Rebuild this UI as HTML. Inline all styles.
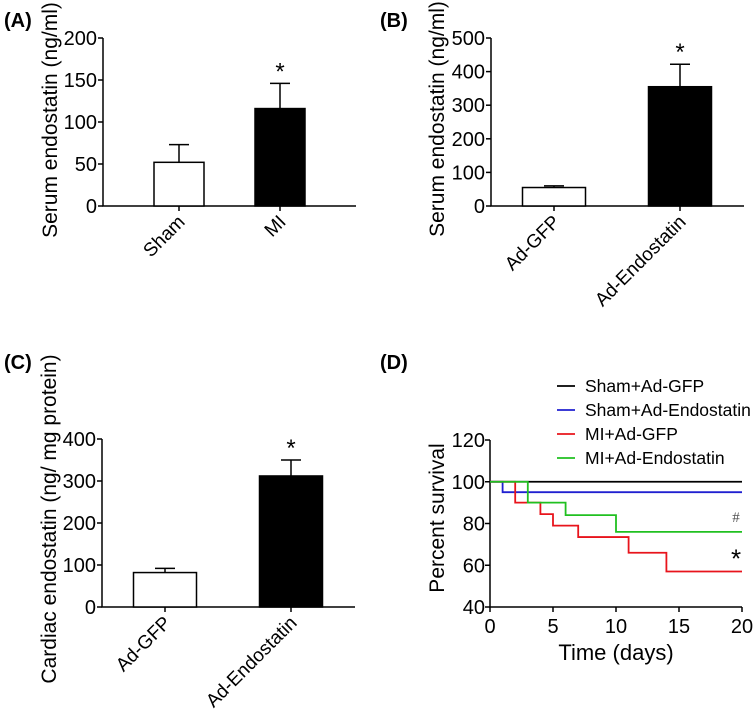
<!DOCTYPE html>
<html><head><meta charset="utf-8"><style>
body{margin:0;background:#fff;}
svg{display:block;font-family:"Liberation Sans",Arial,sans-serif;}
</style></head><body>
<svg id="fig" width="756" height="710" viewBox="0 0 756 710" xmlns="http://www.w3.org/2000/svg">
<text x="4" y="27" font-size="20" font-weight="bold">(A)</text>
<text x="380" y="27" font-size="20" font-weight="bold">(B)</text>
<text x="4" y="369" font-size="20" font-weight="bold">(C)</text>
<text x="380" y="369" font-size="20" font-weight="bold">(D)</text>
</svg>
<script>
const NS="http://www.w3.org/2000/svg";
const svg=document.getElementById('fig');
function mk(tag,attrs,parent,text){const e=document.createElementNS(NS,tag);for(const k in attrs)e.setAttribute(k,attrs[k]);if(text!==undefined)e.textContent=text;(parent||svg).appendChild(e);return e;}

// Panel A data
const aCategories=["Sham","MI"];
const aValues=[52,116];
const aErrors=[73,146];
const aTicks=[0,50,100,150,200];
// Panel B data
const bCategories=["Ad-GFP","Ad-Endostatin"];
const bValues=[55,355];
const bErrors=[60,422];
const bTicks=[0,100,200,300,400,500];
// Panel C data
const cCategories=["Ad-GFP","Ad-Endostatin"];
const cValues=[82,312];
const cErrors=[92,350];
const cTicks=[0,100,200,300,400];
// Panel D data
const dXTicks=[0,5,10,15,20];
const dYTicks=[40,60,80,100,120];
const shamGfpDays=[0,20];
const shamGfpSurv=[100,100];
const shamEndoDays=[0,1,20];
const shamEndoSurv=[100,95,95];
const miGfpDays=[0,2,4,5,7,11,14,20];
const miGfpSurv=[100,90,84.5,79,73.5,66,57,57];
const miEndoDays=[0,3,6,10,20];
const miEndoSurv=[100,90,84,76,76];

function barPanel(cfg){
  const g=mk('g',{});
  
  
  const y=v=>cfg.y0-(v/cfg.max)*(cfg.y0-cfg.yTop);
  const ax=mk('path',{d:`M${cfg.x0},${cfg.yTop}V${cfg.y0}H${cfg.xEnd}`,stroke:'#000','stroke-width':1.5,fill:'none'},g);
  
  cfg.ticks.forEach(t=>{
    mk('line',{x1:cfg.x0-5,x2:cfg.x0,y1:y(t),y2:y(t),stroke:'#000','stroke-width':1.5},g);
    const tl=mk('text',{x:cfg.x0-6,y:y(t)+7,'font-size':20,'text-anchor':'end'},g,t);
    
  });
  const yt=mk('text',{transform:`translate(${cfg.titleX},${cfg.titleY}) rotate(-90)`,'font-size':21,'text-anchor':'middle'},g,cfg.title);
  
  cfg.cats.forEach((c,i)=>{
    const cx=cfg.centers[i];
    const top=y(cfg.vals[i]);
    const b=mk('rect',{x:cx-cfg.bw/2,y:top,width:cfg.bw,height:cfg.y0-top,fill:i?'#000':'#fff',stroke:'#000','stroke-width':1.5},g);
    
    const e=mk('path',{d:`M${cx},${top}V${y(cfg.errs[i])}M${cx-10},${y(cfg.errs[i])}H${cx+10}`,stroke:'#000','stroke-width':1.5,fill:'none'},g);
    
    mk('line',{x1:cx,x2:cx,y1:cfg.y0,y2:cfg.y0+5,stroke:'#000','stroke-width':1.5},g);
    const xl=mk('text',{transform:`translate(${cx+7},${cfg.y0+17}) rotate(-45)`,'font-size':19,'text-anchor':'end'},g,c);
    
  });
  const st=mk('text',{x:cfg.centers[1],y:y(cfg.errs[1])-4,'font-size':24,'text-anchor':'middle'},g,'*');
  
}
barPanel({name:'panel-a-chart',x0:103,xEnd:356,yTop:38,y0:206,max:200,ticks:aTicks,cats:aCategories,vals:aValues,errs:aErrors,centers:[179,280],bw:50,title:'Serum endostatin (ng/ml)',titleX:57,titleY:120});
barPanel({name:'panel-b-chart',x0:491,xEnd:744,yTop:38,y0:206,max:500,ticks:bTicks,cats:bCategories,vals:bValues,errs:bErrors,centers:[554,680],bw:63,title:'Serum endostatin (ng/ml)',titleX:444,titleY:119});
barPanel({name:'panel-c-chart',x0:102,xEnd:355,yTop:439,y0:607,max:400,ticks:cTicks,cats:cCategories,vals:cValues,errs:cErrors,centers:[165,291],bw:63,title:'Cardiac endostatin (ng/ mg protein)',titleX:56,titleY:519});

// Panel D
(function(){
  const g=mk('g',{});
  
  
  const X0=490,X1=742,Y0=607,Y1=440;
  const x=v=>X0+(v-0)/20*(X1-X0);
  const y=v=>Y0-(v-40)/80*(Y0-Y1);
  const ax=mk('path',{d:`M${X0},${Y1}V${Y0}H${X1}`,stroke:'#000','stroke-width':1.5,fill:'none'},g);
  
  dYTicks.forEach(t=>{
    mk('line',{x1:X0-5,x2:X0,y1:y(t),y2:y(t),stroke:'#000','stroke-width':1.5},g);
    const tl=mk('text',{x:X0-5,y:y(t)+7,'font-size':20,'text-anchor':'end'},g,t);
    
  });
  dXTicks.forEach(t=>{
    mk('line',{x1:x(t),x2:x(t),y1:Y0,y2:Y0+5,stroke:'#000','stroke-width':1.5},g);
    const tl=mk('text',{x:x(t),y:Y0+26,'font-size':20,'text-anchor':'middle'},g,t);
    
  });
  const yt=mk('text',{transform:`translate(444,518) rotate(-90)`,'font-size':21,'text-anchor':'middle'},g,'Percent survival');
  
  const xt=mk('text',{x:616,y:660,'font-size':22,'text-anchor':'middle'},g,'Time (days)');
  
  const series=[
    {n:'sham-ad-gfp',label:'Sham+Ad-GFP',c:'#000',d:shamGfpDays,s:shamGfpSurv},
    {n:'sham-ad-endostatin',label:'Sham+Ad-Endostatin',c:'#2020d0',d:shamEndoDays,s:shamEndoSurv},
    {n:'mi-ad-gfp',label:'MI+Ad-GFP',c:'#e8141c',d:miGfpDays,s:miGfpSurv},
    {n:'mi-ad-endostatin',label:'MI+Ad-Endostatin',c:'#20c020',d:miEndoDays,s:miEndoSurv}];
  series.forEach((sr,i)=>{
    let p=`M${x(sr.d[0])},${y(sr.s[0])}`;
    for(let k=1;k<sr.d.length;k++){p+=`H${x(sr.d[k])}V${y(sr.s[k])}`;}
    const l=mk('path',{d:p,stroke:sr.c,'stroke-width':1.8,fill:'none'},g);
    
    const ly=386+i*24;
    const ll=mk('line',{x1:557,x2:575,y1:ly,y2:ly,stroke:sr.c,'stroke-width':1.8},g);
    
    const lt=mk('text',{x:585,y:ly+6,'font-size':17.5},g,sr.label);
    
  });
  const h=mk('text',{x:736,y:y(76)-10,'font-size':15,fill:'#555','text-anchor':'middle','font-family':'Liberation Serif,serif'},g,'#');
  
  const s=mk('text',{x:736,y:y(57)-4,'font-size':26,'text-anchor':'middle'},g,'*');
  
})();
</script>
</body></html>
